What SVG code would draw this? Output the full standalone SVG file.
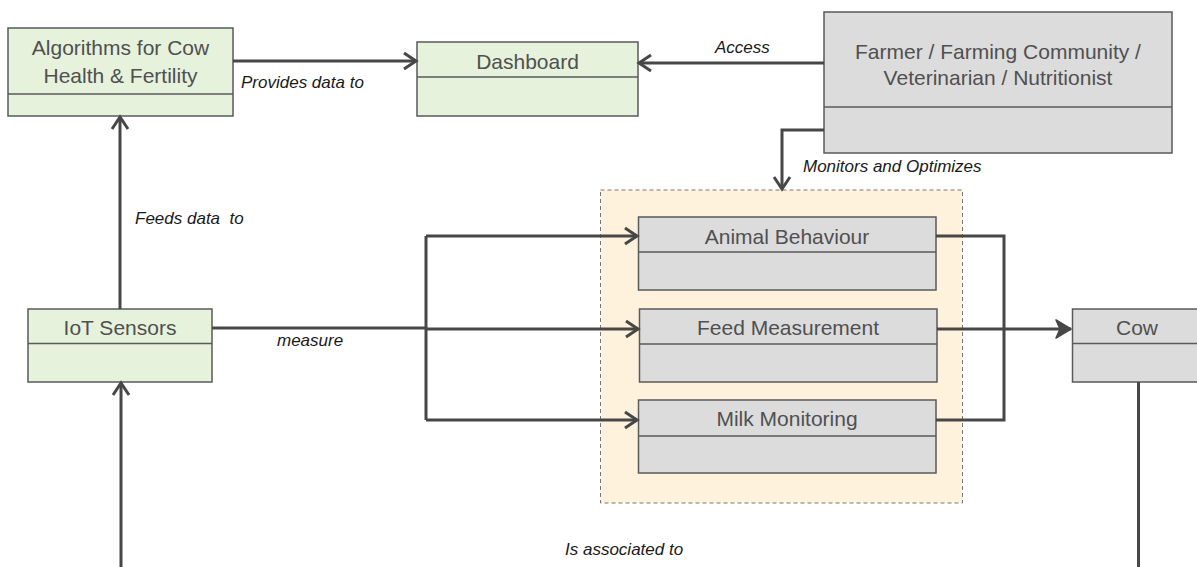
<svg xmlns="http://www.w3.org/2000/svg" width="1197" height="567" viewBox="0 0 1197 567">
  <style>
    .box { stroke: #5a5a5a; stroke-width: 1.5; }
    .green { fill: #e6f2dc; }
    .grey { fill: #dcdcdc; }
    .div { stroke: #5a5a5a; stroke-width: 1.5; fill: none; }
    .name { font-family: "Liberation Sans", Arial, sans-serif; font-size: 21px; fill: #505050; text-anchor: middle; }
    .lbl { font-family: "Liberation Sans", Arial, sans-serif; font-size: 17px; font-style: italic; fill: #1a1a1a; white-space: pre; }
    .wire { fill: none; stroke: #474747; stroke-width: 3; }
    .open { marker-end: url(#chev); }
  </style>
  <defs>
    <marker id="chev" markerUnits="userSpaceOnUse" markerWidth="20" markerHeight="20" viewBox="-14 -10 16 20" refX="0" refY="0" orient="auto">
      <path d="M-12,-8 L0,0 L-12,8" fill="none" stroke="#474747" stroke-width="3"/>
    </marker>
    <marker id="solid" markerUnits="userSpaceOnUse" markerWidth="20" markerHeight="20" viewBox="-16 -10 17 20" refX="0" refY="0" orient="auto">
      <path d="M-15,-9 L0,0 L-15,9 L-11,0 Z" fill="#474747" stroke="#474747" stroke-width="1.5" stroke-linejoin="round"/>
    </marker>
  </defs>

  <!-- grouping area for the three monitored aspects -->
  <g id="monitoring-area">
    <rect x="600.5" y="190" width="362" height="313" fill="#fff2dc" stroke="#777" stroke-width="1" stroke-dasharray="4 3"/>
  </g>

  <g id="algorithms">
    <rect class="box green" x="8" y="28" width="225" height="88"/>
    <line class="div" x1="8" y1="94" x2="233" y2="94"/>
    <text class="name" x="120.5" y="55">Algorithms for Cow</text>
    <text class="name" x="120.5" y="82.5">Health &amp; Fertility</text>
  </g>

  <g id="dashboard">
    <rect class="box green" x="417" y="42" width="221" height="74"/>
    <line class="div" x1="417" y1="77" x2="638" y2="77"/>
    <text class="name" x="527.5" y="69">Dashboard</text>
  </g>

  <g id="farmer">
    <rect class="box grey" x="824" y="12" width="348" height="141"/>
    <line class="div" x1="824" y1="107" x2="1172" y2="107"/>
    <text class="name" x="998" y="59">Farmer / Farming Community /</text>
    <text class="name" x="998" y="85">Veterinarian / Nutritionist</text>
  </g>

  <g id="animal-behaviour">
    <rect class="box grey" x="638.5" y="217" width="297.5" height="73"/>
    <line class="div" x1="638.5" y1="252" x2="936" y2="252"/>
    <text class="name" x="787" y="244">Animal Behaviour</text>
  </g>

  <g id="feed-measurement">
    <rect class="box grey" x="639.5" y="309" width="297.5" height="73"/>
    <line class="div" x1="639.5" y1="344" x2="937" y2="344"/>
    <text class="name" x="788" y="335">Feed Measurement</text>
  </g>

  <g id="milk-monitoring">
    <rect class="box grey" x="638.5" y="400" width="297.5" height="73"/>
    <line class="div" x1="638.5" y1="436" x2="936" y2="436"/>
    <text class="name" x="787" y="426">Milk Monitoring</text>
  </g>

  <g id="iot-sensors">
    <rect class="box green" x="28" y="309" width="184" height="73"/>
    <line class="div" x1="28" y1="343.5" x2="212" y2="343.5"/>
    <text class="name" x="120" y="335">IoT Sensors</text>
  </g>

  <g id="cow">
    <rect class="box grey" x="1072.5" y="309" width="200" height="73"/>
    <line class="div" x1="1072.5" y1="343.5" x2="1272" y2="343.5"/>
    <text class="name" x="1137" y="335">Cow</text>
  </g>

  <g id="connectors">
    <path class="wire open" d="M233,61 H416"/>
    <path class="wire open" d="M824,63 H639"/>
    <path class="wire open" d="M824,130 H782 V189"/>
    <path class="wire open" d="M120,309 V117"/>
    <path class="wire open" d="M121,567 V383"/>
    <path class="wire" d="M212,328 H426"/>
    <path class="wire" d="M426,236 V420"/>
    <path class="wire open" d="M426,236 H637"/>
    <path class="wire open" d="M426,329 H638"/>
    <path class="wire open" d="M426,420 H637"/>
    <path class="wire" d="M936,236 H1004 V420 H936"/>
    <path class="wire" d="M937,329 H1004"/>
    <path class="wire" d="M1004,329 H1071" stroke-width="4.5" marker-end="url(#solid)"/>
    <path class="wire" d="M1138.5,382 V567"/>

    <text class="lbl" x="241" y="88">Provides data to</text>
    <text class="lbl" x="715" y="53">Access</text>
    <text class="lbl" x="803" y="172">Monitors and Optimizes</text>
    <text class="lbl" x="135" y="224">Feeds data  to</text>
    <text class="lbl" x="277" y="346">measure</text>
    <text class="lbl" x="565" y="555">Is associated to</text>
  </g>
</svg>
